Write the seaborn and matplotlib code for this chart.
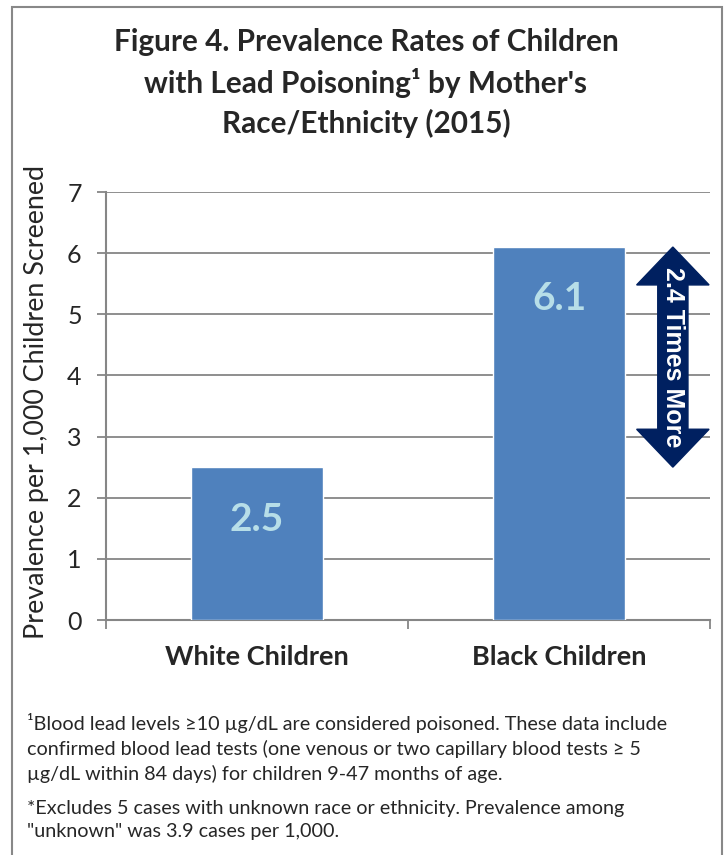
import matplotlib
matplotlib.use("Agg")
import matplotlib.pyplot as plt
from matplotlib.patches import Polygon, Rectangle
import seaborn as sns
import pandas as pd

categories = ["White Children", "Black Children"]
prevalence = [2.5, 6.1]
value_labels = ["2.5", "6.1"]
y_ticks = [0, 1, 2, 3, 4, 5, 6, 7]
ratio_text = "2.4 Times More"

title = ("Figure 4. Prevalence Rates of Children\n"
         "with Lead Poisoning\u00b9 by Mother's\n"
         "Race/Ethnicity (2015)")
ylabel = "Prevalence per 1,000 Children Screened"
note1 = ("\u00b9Blood lead levels \u226510 \u00b5g/dL are considered poisoned. These data include\n"
         "confirmed blood lead tests (one venous or two capillary blood tests \u2265 5\n"
         "\u00b5g/dL within 84 days) for children 9-47 months of age.")
note2 = ("*Excludes 5 cases with unknown race or ethnicity. Prevalence among\n"
         "\"unknown\" was 3.9 cases per 1,000.")

df = pd.DataFrame({"group": categories, "value": prevalence})

sns.set_style("white")
plt.rcParams["font.family"] = ["Lato", "DejaVu Sans"]

grey = "#868686"
bar_blue = "#4F81BD"
navy = "#002060"

fig = plt.figure(figsize=(7.27, 8.55), dpi=100)
ax = fig.add_axes([106 / 727, 235 / 855, 604 / 727, 428 / 855])

sns.barplot(data=df, x="group", y="value", color=bar_blue, width=0.435,
            saturation=1, ax=ax, zorder=3)

ax.set_xlim(-0.5, 1.5)
ax.set_ylim(0, 7)
ax.set_yticks(y_ticks)
ax.yaxis.grid(True, color=grey, linewidth=1.3)
ax.set_axisbelow(True)
for s in ["top", "right"]:
    ax.spines[s].set_visible(False)
for s in ["left", "bottom"]:
    ax.spines[s].set_color(grey)
    ax.spines[s].set_linewidth(1.5)

ax.tick_params(axis="y", direction="out", length=6.5, width=1.3, color=grey,
               labelsize=18, pad=11, left=True)
ax.tick_params(axis="x", which="major", length=0, pad=18, labelsize=19.5)
ax.set_xticks([-0.5, 0.5, 1.5], minor=True)
ax.tick_params(axis="x", which="minor", direction="out", length=6.5,
               width=1.3, color=grey, bottom=True)
for lab in ax.get_xticklabels():
    lab.set_fontweight("bold")

ax.set_xlabel("")
ax.set_ylabel(ylabel, fontsize=19.4)
ax.yaxis.set_label_coords(-0.094, 0.509)

# value labels inside the bars
for i, (v, t) in enumerate(zip(prevalence, value_labels)):
    ax.text(i, v - 0.85, t, ha="center", va="center", fontsize=28,
            fontweight="bold", color="#B7DEE8", zorder=4)

# double-headed arrow between the two values
lo, hi = prevalence
ax_x = 1.377
hw_s, hw_h, hl = 0.05, 0.12, 0.62
pts = [(ax_x, hi), (ax_x + hw_h, hi - hl), (ax_x + hw_s, hi - hl),
       (ax_x + hw_s, lo + hl), (ax_x + hw_h, lo + hl), (ax_x, lo),
       (ax_x - hw_h, lo + hl), (ax_x - hw_s, lo + hl),
       (ax_x - hw_s, hi - hl), (ax_x - hw_h, hi - hl)]
ax.add_patch(Polygon(pts, closed=True, color=navy, zorder=5, clip_on=False))
ax.text(ax_x, (lo + hi) / 2, ratio_text, rotation=270, ha="center",
        va="center", fontsize=18, fontweight="bold", color="white",
        family=["Liberation Sans", "DejaVu Sans"], zorder=6)

fig.text(0.5034, 1 - 28 / 855, title, ha="center", va="top", fontsize=21.4,
         fontweight="bold", linespacing=1.47)
fig.text(27 / 727, 1 - 713 / 855, note1, ha="left", va="top", fontsize=14.2,
         linespacing=1.45)
fig.text(27 / 727, 1 - 800 / 855, note2, ha="left", va="top", fontsize=14.2,
         linespacing=1.45)

fig.patches.append(Rectangle((12 / 727, -0.02), 710 / 727, 1.02 - 7.5 / 855,
                             transform=fig.transFigure, fill=False,
                             edgecolor="#888888", linewidth=1.5))

fig.savefig("out.png", dpi=100)
